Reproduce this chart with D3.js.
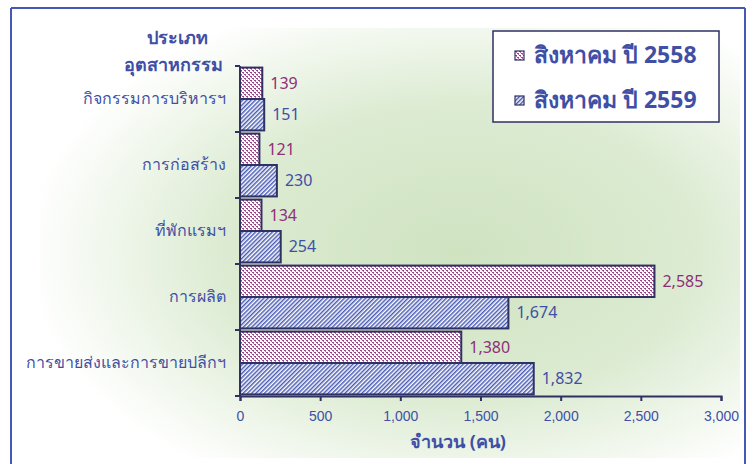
<!DOCTYPE html>
<html>
<head>
<meta charset="utf-8">
<script src="https://cdn.jsdelivr.net/npm/d3@7"></script>
<style>
body { margin: 0; background: #fff; }
svg { display: block; font-family: "Noto Sans", "Open Sans", sans-serif; }
</style>
</head>
<body>
<svg width="756" height="464"></svg>
<script>
var categories = ["กิจกรรมการบริหารฯ", "การก่อสร้าง", "ที่พักแรมฯ", "การผลิต", "การขายส่งและการขายปลีกฯ"];
var series = ["สิงหาคม ปี 2558", "สิงหาคม ปี 2559"];
var values2558 = [139, 121, 134, 2585, 1380];
var values2559 = [151, 230, 254, 1674, 1832];
var xTicks = [0, 500, 1000, 1500, 2000, 2500, 3000];

var svg = d3.select("svg"),
	width = +svg.attr("width"),
	height = +svg.attr("height");

var navy = "#2f3163",
	blue = "#3f4fa6",
	purple = "#8e2f78";

var defs = svg.append("defs");

// soft green glow behind the plot
var grad = defs.append("radialGradient")
	.attr("id", "glow")
	.attr("cx", "0.6").attr("cy", "0.52")
	.attr("r", "0.62");
grad.append("stop").attr("offset", "0%").attr("stop-color", "#cfe3c1");
grad.append("stop").attr("offset", "55%").attr("stop-color", "#dcebd2");
grad.append("stop").attr("offset", "100%").attr("stop-color", "#ffffff");

// dotted pattern (2558)
var dots = defs.append("pattern")
	.attr("id", "dots")
	.attr("patternUnits", "userSpaceOnUse")
	.attr("width", 4).attr("height", 4);
dots.append("rect").attr("width", 4).attr("height", 4).attr("fill", "#fff");
dots.append("rect").attr("x", 0).attr("y", 0).attr("width", 2).attr("height", 1).attr("fill", "#9a4488");
dots.append("rect").attr("x", 1).attr("y", 1).attr("width", 1).attr("height", 1).attr("fill", "#b571a8");
dots.append("rect").attr("x", 2).attr("y", 2).attr("width", 2).attr("height", 1).attr("fill", "#9a4488");
dots.append("rect").attr("x", 3).attr("y", 3).attr("width", 1).attr("height", 1).attr("fill", "#b571a8");

// diagonal hatch (2559)
var hatch = defs.append("pattern")
	.attr("id", "hatch")
	.attr("patternUnits", "userSpaceOnUse")
	.attr("width", 3).attr("height", 3)
	.attr("patternTransform", "rotate(45)");
hatch.append("rect").attr("width", 3).attr("height", 3).attr("fill", "#fff");
hatch.append("rect").attr("width", 1.5).attr("height", 3).attr("fill", "#4a5cb4");

var fills = ["url(#dots)", "url(#hatch)"];
var labelColors = [purple, blue];

// background + frame
svg.append("rect")
	.attr("x", 40).attr("y", 28)
	.attr("width", 700).attr("height", 430)
	.attr("fill", "url(#glow)");

var frame = svg.append("g")
	.attr("stroke", "#4658b2")
	.attr("stroke-width", 2);
frame.append("line").attr("x1", 11).attr("x2", 11).attr("y1", 8).attr("y2", 464);
frame.append("line").attr("x1", 745).attr("x2", 745).attr("y1", 8).attr("y2", 464);
frame.append("line").attr("x1", 11).attr("x2", 745).attr("y1", 8).attr("y2", 8);

var margin = {left: 240, right: 756 - 721, top: 66, bottom: 464 - 396};

var x = d3.scaleLinear()
	.domain([0, 3000])
	.range([margin.left, width - margin.right]);

var y = d3.scaleBand()
	.domain(categories)
	.range([margin.top, height - margin.bottom]);

var y1 = d3.scaleBand()
	.domain([0, 1])
	.range([0, y.bandwidth()])
	.paddingOuter(0.05);

var rows = categories.map(function(c, i) {
	return {cat: c, vals: [values2558[i], values2559[i]]};
});

var groups = svg.append("g").selectAll("g")
	.data(rows).enter()
	.append("g")
	.attr("transform", function(d) { return "translate(0," + y(d.cat) + ")"; });

groups.selectAll("rect")
	.data(function(d) { return d.vals; })
	.enter().append("rect")
	.attr("x", x(0))
	.attr("y", function(d, i) { return y1(i); })
	.attr("width", function(d) { return x(d) - x(0); })
	.attr("height", y1.bandwidth())
	.attr("fill", function(d, i) { return fills[i]; })
	.attr("stroke", navy)
	.attr("stroke-width", 2);

groups.selectAll("text")
	.data(function(d) { return d.vals; })
	.enter().append("text")
	.attr("x", function(d) { return x(d) + 8; })
	.attr("y", function(d, i) { return y1(i) + y1.bandwidth() / 2; })
	.attr("dy", "0.36em")
	.attr("fill", function(d, i) { return labelColors[i]; })
	.style("font-size", "16px")
	.text(function(d) { return d3.format(",")(d); });

// x axis
var xAxis = svg.append("g")
	.attr("transform", "translate(0," + (height - margin.bottom) + ")")
	.call(d3.axisBottom(x).tickValues(xTicks).tickFormat(d3.format(",")).tickSize(5).tickSizeOuter(5));
xAxis.select(".domain").attr("stroke", navy).attr("stroke-width", 2);
xAxis.selectAll(".tick line").attr("stroke", navy).attr("stroke-width", 2);
xAxis.selectAll(".tick text")
	.attr("fill", blue)
	.attr("y", 15)
	.style("font-size", "14px");

svg.append("text")
	.attr("x", 458)
	.attr("y", 448)
	.attr("text-anchor", "middle")
	.attr("fill", blue)
	.style("font-size", "18px")
	.style("font-weight", "bold")
	.text("จำนวน (คน)");

// y axis
var yAxis = svg.append("g")
	.attr("transform", "translate(" + margin.left + ",0)")
	.call(d3.axisLeft(y).tickSize(0).tickPadding(14));
yAxis.select(".domain").remove();
yAxis.selectAll(".tick text")
	.attr("fill", blue)
	.style("font-size", "16px");

var yLine = svg.append("g");
yLine.append("line")
	.attr("x1", margin.left).attr("x2", margin.left)
	.attr("y1", margin.top).attr("y2", height - margin.bottom)
	.attr("stroke", navy).attr("stroke-width", 2);
yLine.selectAll(".yt")
	.data(categories.concat(["end"]))
	.enter().append("line")
	.attr("x1", margin.left - 5).attr("x2", margin.left)
	.attr("y1", function(d, i) { return margin.top + i * y.step(); })
	.attr("y2", function(d, i) { return margin.top + i * y.step(); })
	.attr("stroke", navy).attr("stroke-width", 2);

svg.append("text")
	.attr("x", 177).attr("y", 44)
	.attr("text-anchor", "middle")
	.attr("fill", blue)
	.style("font-size", "18px")
	.style("font-weight", "bold")
	.text("ประเภท");
svg.append("text")
	.attr("x", 223).attr("y", 71)
	.attr("text-anchor", "end")
	.attr("fill", blue)
	.style("font-size", "18px")
	.style("font-weight", "bold")
	.text("อุตสาหกรรม");

// legend
var legend = svg.append("g");
legend.append("rect")
	.attr("x", 493).attr("y", 31)
	.attr("width", 226).attr("height", 91)
	.attr("fill", "#fff")
	.attr("stroke", navy)
	.attr("stroke-width", 1.5);

var li = legend.selectAll(".item")
	.data(series).enter()
	.append("g")
	.attr("transform", function(d, i) { return "translate(515," + (55 + i * 45) + ")"; });
li.append("rect")
	.attr("x", 0).attr("y", -4)
	.attr("width", 9).attr("height", 9)
	.attr("fill", function(d, i) { return fills[i]; })
	.attr("stroke", navy).attr("stroke-width", 1.2);
li.append("text")
	.attr("x", 19).attr("y", 0)
	.attr("dy", "0.36em")
	.attr("fill", blue)
	.style("font-size", "23px")
	.style("font-weight", "bold")
	.text(function(d) { return d; });
</script>
</body>
</html>
